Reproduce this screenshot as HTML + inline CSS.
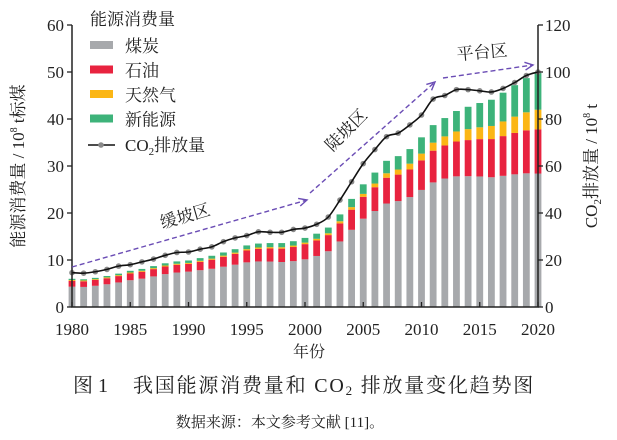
<!DOCTYPE html>
<html><head><meta charset="utf-8"><style>
body{margin:0;background:#fff;width:617px;height:440px;overflow:hidden}
svg{display:block}
text{font-family:"Liberation Serif","Noto Serif CJK SC",serif;fill:#222}
</style></head><body>
<svg id="s" width="617" height="440" xmlns="http://www.w3.org/2000/svg"></svg>
<script>
const S=document.getElementById('s');let h='';
const X0=72,X1=538,Y0=307,YT=25;
const xs=y=>X0+(y-1980)*(X1-X0)/40;
const yl=v=>Y0-v*(Y0-YT)/60;
const yr=v=>Y0-v*(Y0-YT)/120;
const tot=[6.0,5.9,6.2,6.6,7.1,7.7,8.1,8.7,9.3,9.7,9.9,10.4,10.9,11.6,12.3,13.1,13.5,13.6,13.6,14.0,14.7,15.6,16.9,19.7,23.0,26.1,28.6,31.1,32.1,33.6,36.1,38.7,40.2,41.7,42.6,43.4,44.1,45.6,47.2,48.7,49.8];
const kc=[[1980,72,20.7,3.1],[1990,76,16.6,2.1],[2000,69,22,2.2],[2005,72,17.8,2.4],[2010,69,17.4,4.0],[2012,68,17.5,4.8],[2015,64,18.3,5.8],[2020,57,18.9,8.4]];
function sh(y){for(let i=0;i<kc.length-1;i++){const a=kc[i],b=kc[i+1];if(y>=a[0]&&y<=b[0]){const t=(y-a[0])/(b[0]-a[0]);return [1,2,3].map(k=>a[k]+(b[k]-a[k])*t);}}}
const co=[14.6,14.4,15,16,17.4,18,19.2,20.4,22,23.2,23.4,24.6,25.6,27.8,29.4,30.4,32,31.8,31.8,33,33.6,35.2,38.3,45.5,53.3,61,67,72.5,74,77.5,81.7,88.5,90,92.5,92.5,92,91.5,93,95.5,98.5,100];
const bw=6.8;
for(let i=0;i<=40;i++){const y=1980+i,T=tot[i],s=sh(y);const c=T*s[0]/100,o=T*s[1]/100,g=T*s[2]/100;const x=xs(y)-bw/2;
const seg=[[0,c,'#a7a9ac'],[c,c+o,'#e8233f'],[c+o,c+o+g,'#fbb615'],[c+o+g,T,'#3db37a']];
seg.forEach(q=>{h+=`<rect x="${x}" y="${yl(q[1])}" width="${bw}" height="${yl(q[0])-yl(q[1])}" fill="${q[2]}"/>`});}
let p=co.map((v,i)=>[xs(1980+i),yr(v)]);
let d='M'+p[0];for(let i=0;i<p.length-1;i++){const a=p[Math.max(0,i-1)],b=p[i],c=p[i+1],e=p[Math.min(p.length-1,i+2)];
d+=` C${b[0]+(c[0]-a[0])/6},${b[1]+(c[1]-a[1])/6} ${c[0]-(e[0]-b[0])/6},${c[1]-(e[1]-b[1])/6} ${c[0]},${c[1]}`;}
p.forEach(q=>h+=`<circle cx="${q[0]}" cy="${q[1]}" r="2.8" fill="#8a8a8a"/>`);
h+=`<path d="${d}" fill="none" stroke="#111" stroke-width="1.6"/>`;
h+=`<path d="M${X0},${YT} V${Y0} H${X1} V${YT}" fill="none" stroke="#222" stroke-width="1.5"/>`;
for(let v=0;v<=60;v+=10){h+=`<line x1="${X0-5}" x2="${X0}" y1="${yl(v)}" y2="${yl(v)}" stroke="#222" stroke-width="1.3"/><text x="${X0-8}" y="${yl(v)+6}" font-size="17" text-anchor="end">${v}</text>`;}
for(let v=0;v<=120;v+=20){h+=`<line x1="${X1}" x2="${X1+5}" y1="${yr(v)}" y2="${yr(v)}" stroke="#222" stroke-width="1.3"/><text x="${X1+7}" y="${yr(v)+6}" font-size="17">${v}</text>`;}
for(let y=1980;y<=2020;y+=5){h+=`<line x1="${xs(y)}" x2="${xs(y)}" y1="${Y0}" y2="${Y0-5}" stroke="#222" stroke-width="1.3"/><text x="${xs(y)}" y="335" font-size="17" text-anchor="middle">${y}</text>`;}
const ar=(x1,y1,x2,y2)=>{const an=Math.atan2(y2-y1,x2-x1),L=9;
h+=`<line x1="${x1}" y1="${y1}" x2="${x2}" y2="${y2}" stroke="#6b4db5" stroke-width="1.4" stroke-dasharray="5,3"/>`;
h+=`<polyline points="${x2-L*Math.cos(an-0.45)},${y2-L*Math.sin(an-0.45)} ${x2},${y2} ${x2-L*Math.cos(an+0.45)},${y2-L*Math.sin(an+0.45)}" fill="none" stroke="#6b4db5" stroke-width="1.4"/>`;};
ar(72,267,307,200);ar(310,193,435,82);ar(443,78,533,65);
h+=`<text x="185" y="222" font-size="17" text-anchor="middle" transform="rotate(-16 185 216)">缓坡区</text>`;
h+=`<text x="346" y="136" font-size="17" text-anchor="middle" transform="rotate(-45 346 130)">陡坡区</text>`;
h+=`<text x="482" y="58" font-size="17" text-anchor="middle" transform="rotate(-5 482 52)">平台区</text>`;
h+=`<text x="90" y="25" font-size="17">能源消费量</text>`;
[['#a7a9ac','煤炭'],['#e8233f','石油'],['#fbb615','天然气'],['#3db37a','新能源']].forEach((q,i)=>{const y=47+i*24.5;
h+=`<rect x="90" y="${y-6}" width="23" height="8" fill="${q[0]}"/><text x="125" y="${y+5}" font-size="17">${q[1]}</text>`;});
h+=`<line x1="88" x2="115" y1="145" y2="145" stroke="#111" stroke-width="1.5"/><circle cx="101" cy="145" r="2.8" fill="#8a8a8a"/><text x="125" y="151" font-size="17">CO<tspan font-size="11" dy="4">2</tspan><tspan dy="-4">排放量</tspan></text>`;
h+=`<text transform="translate(24,166) rotate(-90)" font-size="17" text-anchor="middle">能源消费量 / 10<tspan font-size="10" dy="-7">8</tspan><tspan dy="7"> t标煤</tspan></text>`;
h+=`<text transform="translate(597,166) rotate(-90)" font-size="17" text-anchor="middle">CO<tspan font-size="11" dy="4">2</tspan><tspan dy="-4">排放量 / 10</tspan><tspan font-size="10" dy="-7">8</tspan><tspan dy="7"> t</tspan></text>`;
h+=`<text x="309" y="357" font-size="16" text-anchor="middle">年份</text>`;
h+=`<text x="73" y="392" font-size="20">图 1</text><text x="133" y="392" font-size="20" letter-spacing="1.8">我国能源消费量和 CO<tspan font-size="13" dy="3">2</tspan><tspan dy="-3"> 排放量变化趋势图</tspan></text>`;
h+=`<text x="280" y="427" font-size="15" text-anchor="middle">数据来源：本文参考文献 [11]。</text>`;
S.innerHTML=h;
</script>
</body></html>
